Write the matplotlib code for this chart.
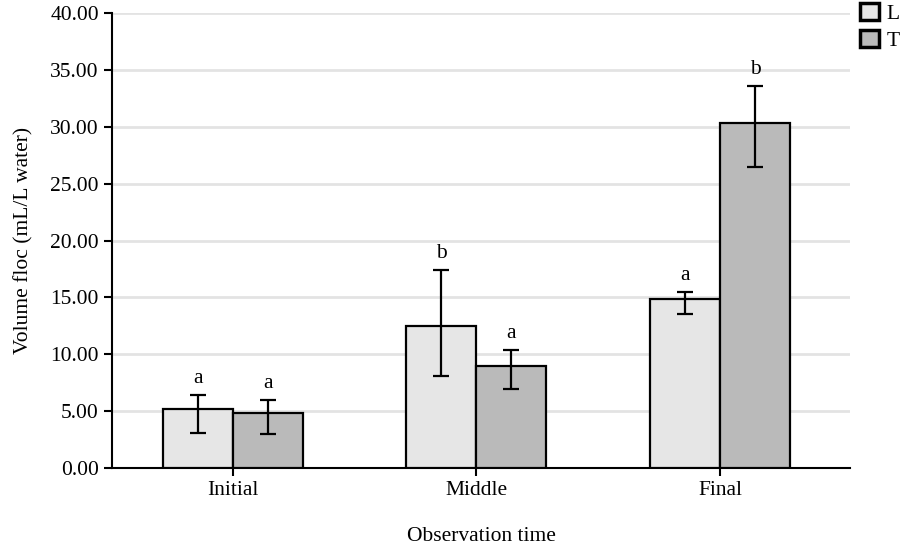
import numpy as np
import matplotlib.pyplot as plt

plt.rcParams['font.family'] = ['Liberation Serif', 'DejaVu Serif']

# Datos
categorias = ['Initial', 'Middle', 'Final']
media_L = [5.19, 12.51, 14.83]
media_T = [4.86, 8.97, 30.36]
err_sup_L = [6.42, 17.41, 15.50]
err_inf_L = [3.08, 8.09, 13.54]
err_sup_T = [5.98, 10.37, 33.61]
err_inf_T = [2.96, 6.97, 26.49]
letras_L = ['a', 'b', 'a']
letras_T = ['a', 'a', 'b']

fig = plt.figure(figsize=(9.05, 5.47), dpi=100)
ax = fig.add_axes([112 / 905, 1 - 468 / 547, (850 - 112) / 905, (468 - 13) / 547])

x = np.arange(len(categorias))
w = 0.2875

yerr_L = [np.array(media_L) - np.array(err_inf_L), np.array(err_sup_L) - np.array(media_L)]
yerr_T = [np.array(media_T) - np.array(err_inf_T), np.array(err_sup_T) - np.array(media_T)]

ax.bar(x - w / 2, media_L, w, color='#e6e6e6', edgecolor='black', linewidth=1.6,
       yerr=yerr_L, capsize=6, error_kw={'elinewidth': 1.6, 'capthick': 1.6}, label='L', zorder=3)
ax.bar(x + w / 2, media_T, w, color='#bababa', edgecolor='black', linewidth=1.6,
       yerr=yerr_T, capsize=6, error_kw={'elinewidth': 1.6, 'capthick': 1.6}, label='T', zorder=3)

for i in range(len(categorias)):
    ax.text(x[i] - w / 2, err_sup_L[i] + 0.6, letras_L[i], ha='center', va='bottom', fontsize=15.5)
    ax.text(x[i] + w / 2, err_sup_T[i] + 0.6, letras_T[i], ha='center', va='bottom', fontsize=15.5)

ax.set_ylim(0, 40)
ax.set_xlim(-0.497, 2.534)
ax.set_yticks(np.arange(0, 41, 5))
ax.set_yticklabels(['%.2f' % v for v in np.arange(0, 41, 5)])
ax.set_xticks(x)
ax.set_xticklabels(categorias)
ax.tick_params(labelsize=15.5, width=1.5, length=6)
ax.yaxis.grid(True, color='#e3e3e3', linewidth=2, zorder=0)
ax.set_axisbelow(True)

for s in ['top', 'right']:
    ax.spines[s].set_visible(False)
ax.spines['left'].set_linewidth(1.5)
ax.spines['bottom'].set_linewidth(1.5)

ax.set_xlabel('Observation time', fontsize=15.5, labelpad=19)
ax.set_ylabel('Volume floc (mL/L water)', fontsize=15.5, labelpad=12)

leg = ax.legend(loc='upper left', bbox_to_anchor=(1.0025, 1.042), frameon=False, fontsize=15.5,
                handlelength=0.85, handleheight=0.85, handletextpad=0.35, labelspacing=0.3,
                borderaxespad=0)
for h in leg.legend_handles:
    h.set_linewidth(2.5)

plt.savefig('out.png', dpi=100)
